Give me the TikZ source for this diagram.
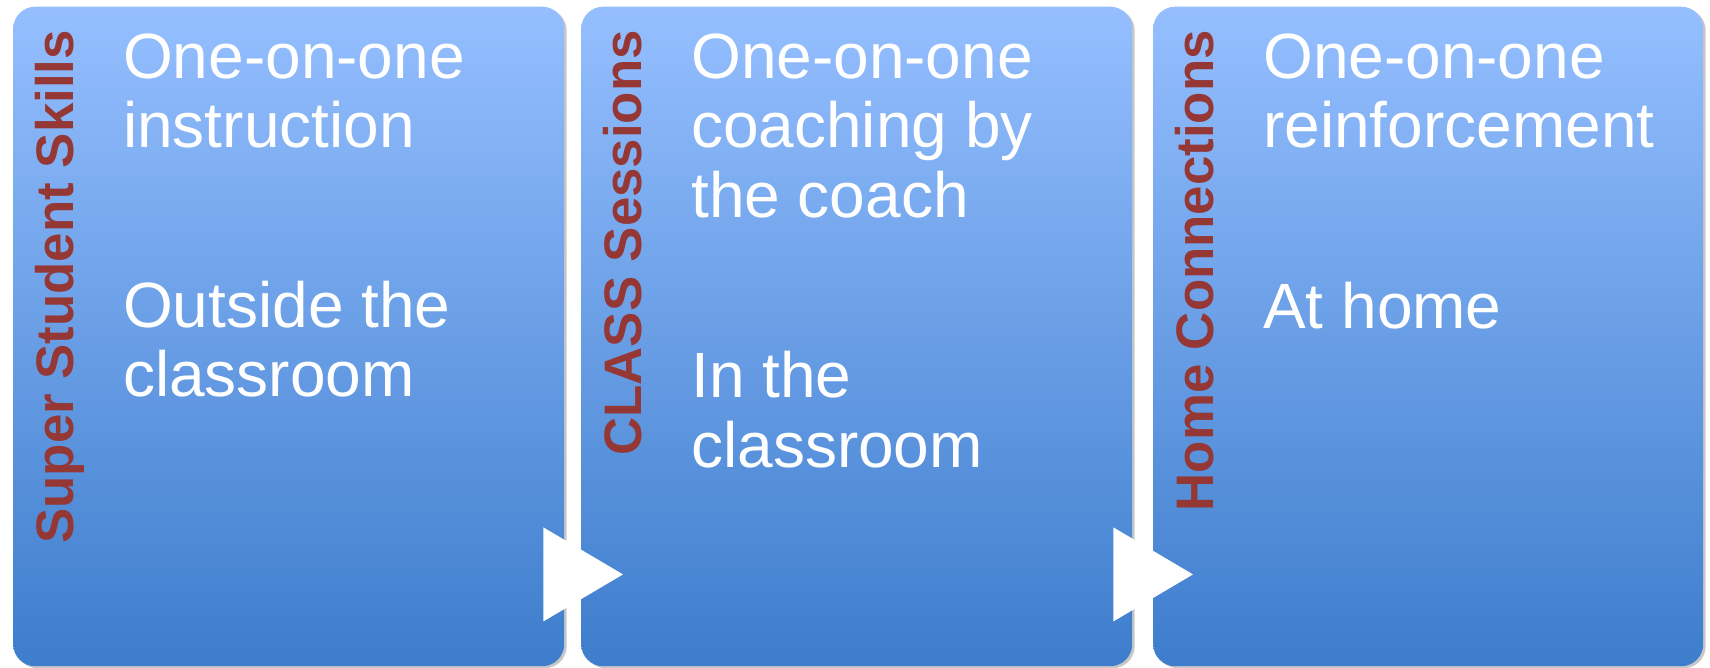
\documentclass[tikz,border=0pt]{standalone}
\usepackage{fontspec}
\setmainfont{Liberation Sans}
\usetikzlibrary{calc,shadows}

\definecolor{boxtop}{RGB}{149,191,255}
\definecolor{boxbottom}{RGB}{61,125,204}
\definecolor{labelred}{RGB}{149,55,53}

\begin{document}
\begin{tikzpicture}[x=1pt,y=-1pt,
  stage/.style={rounded corners=22pt, top color=boxtop, bottom color=boxbottom,
    draw=none, inner sep=0pt, anchor=north west, minimum height=659.5pt,
    drop shadow={shadow xshift=2.5pt, shadow yshift=-2pt, opacity=0.22, fill=black}},
  body/.style={text=white, inner sep=0pt, anchor=base west,
    font=\fontsize{64}{70}\selectfont},
  stagelabel/.style={text=labelred, inner sep=0pt, rotate=90, anchor=base east,
    font=\fontsize{52.8}{60}\selectfont\bfseries},
  arrowtri/.style={fill=white}]
  \useasboundingbox (0,0) rectangle (1710,667);

  % three stage panels
  \node[stage, minimum width=551pt] (b1) at (13,6.5) {};
  \node[stage, minimum width=551pt] (b2) at (581,6.5) {};
  \node[stage, minimum width=550pt] (b3) at (1153,6.5) {};

  % vertical titles
  \node[stagelabel] (l1) at (73,30) {Super Student Skills};
  \node[stagelabel] (l2) at (641,30) {CLASS Sessions};
  \node[stagelabel] (l3) at (1213,30) {Home Connections};

  % first panel text
  \node[body] (t1a) at (123,78) {One-on-one};
  \node[body] (t1b) at (123,147) {instruction};
  \node[body] (t1c) at (123,327) {Outside the};
  \node[body] (t1d) at (123,396) {classroom};

  % second panel text
  \node[body] (t2a) at (691,78) {One-on-one};
  \node[body] (t2b) at (691,147) {coaching by};
  \node[body] (t2c) at (691,217) {the coach};
  \node[body] (t2d) at (691,397) {In the};
  \node[body] (t2e) at (691,467) {classroom};

  % third panel text
  \node[body] (t3a) at (1263,78) {One-on-one};
  \node[body] (t3b) at (1263,147) {reinforcement};
  \node[body] (t3c) at (1263,328) {At home};

  % arrows between panels
  \fill[arrowtri] ($(b1.south east)+(-21,-139)$) -- ($(b1.south east)+(-21,-45)$)
    -- ($(b2.south west)+(42,-92)$) -- cycle;
  \fill[arrowtri] ($(b2.south east)+(-19,-139)$) -- ($(b2.south east)+(-19,-45)$)
    -- ($(b3.south west)+(40,-92)$) -- cycle;
\end{tikzpicture}
\end{document}
